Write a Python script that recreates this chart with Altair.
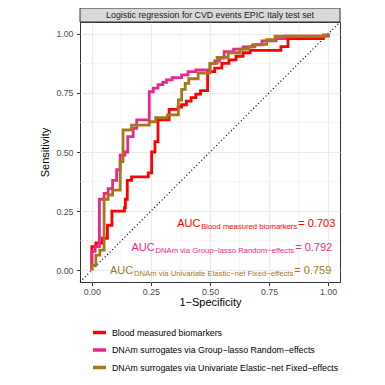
import altair as alt
import pandas as pd

TITLE = "Logistic regression for CVD events EPIC Italy test set"
METHODS = ["Blood measured biomarkers",
           "DNAm surrogates via Group\u2212lasso Random\u2212effects",
           "DNAm surrogates via Univariate Elastic\u2212net Fixed\u2212effects"]
COLORS = ["#FF0000", "#E7298A", "#A6761D"]

RED_FPR = [0, 0, 0.017, 0.045, 0.066, 0.085, 0.138, 0.142, 0.15, 0.168, 0.239, 0.253, 0.267, 0.28,
           0.327, 0.365, 0.38, 0.40, 0.42, 0.44, 0.46, 0.49, 0.52, 0.55, 0.58, 0.61, 0.64, 0.67,
           0.80, 0.83, 0.98, 1.0]
RED_TPR = [0, 0.10, 0.115, 0.135, 0.19, 0.25, 0.265, 0.30, 0.38, 0.395, 0.412, 0.50, 0.544, 0.636,
           0.68, 0.69, 0.70, 0.715, 0.73, 0.745, 0.76, 0.84, 0.855, 0.875, 0.89, 0.905, 0.92, 0.93,
           0.946, 0.98, 0.99, 1.0]

PINK_FPR = [0, 0, 0.014, 0.032, 0.052, 0.069, 0.088, 0.105, 0.12, 0.14, 0.152, 0.175, 0.19, 0.243,
            0.26, 0.28, 0.30, 0.316, 0.34, 0.38, 0.407, 0.44, 0.50, 0.52, 0.54, 0.56, 0.60, 0.64,
            0.68, 0.72, 0.78, 0.82, 0.98, 1.0]
PINK_TPR = [0, 0.08, 0.10, 0.30, 0.325, 0.345, 0.38, 0.425, 0.487, 0.50, 0.565, 0.60, 0.636, 0.755,
            0.77, 0.785, 0.795, 0.805, 0.815, 0.826, 0.84, 0.847, 0.875, 0.885, 0.897, 0.925, 0.935,
            0.945, 0.953, 0.97, 0.98, 0.99, 0.993, 1.0]

GOLD_FPR = [0, 0, 0.017, 0.034, 0.052, 0.069, 0.088, 0.12, 0.132, 0.168, 0.243, 0.27, 0.32, 0.366,
            0.38, 0.395, 0.41, 0.45, 0.50, 0.53, 0.577, 0.627, 0.663, 0.69, 0.74, 0.775, 0.98, 1.0]
GOLD_TPR = [0, 0.02, 0.064, 0.085, 0.30, 0.318, 0.339, 0.459, 0.593, 0.614, 0.628, 0.645, 0.657,
            0.72, 0.765, 0.79, 0.81, 0.834, 0.875, 0.90, 0.92, 0.935, 0.945, 0.955, 0.975, 0.99,
            0.995, 1.0]

AUC_VALUES = [0.703, 0.792, 0.759]
AUC_SUBS = ["Blood measured biomarkers",
            "DNAm via Group\u2212lasso Random\u2212effects",
            "DNAm via Univariate Elastic\u2212net Fixed\u2212effects"]
AUC_X = [1.03, 1.017, 1.013]
AUC_Y = [0.2, 0.1, 0.0]

TICKS = [0, 0.25, 0.5, 0.75, 1]
MINOR = [0.125, 0.375, 0.625, 0.875]
DIAG = [-0.05, 1.05]

FONT = "Liberation Sans"
MAIN_SIZE = 11
SUB_SIZE = 7.7
PLOT_W = 260
DOMAIN = [-0.05, 1.05]
PX_PER_UNIT = PLOT_W / (DOMAIN[1] - DOMAIN[0])

# Arial / Liberation Sans advance widths (per 1000 em)
W = {' ': 278, '-': 333, '\u2212': 584, '=': 584, '.': 278,
     'A': 667, 'B': 667, 'C': 722, 'D': 722, 'E': 667, 'F': 611, 'G': 778, 'I': 278,
     'N': 722, 'R': 722, 'U': 722,
     'a': 556, 'b': 556, 'c': 500, 'd': 556, 'e': 556, 'f': 278, 'g': 556, 'h': 556,
     'i': 222, 'k': 500, 'l': 222, 'm': 833, 'n': 556, 'o': 556, 'p': 556, 'r': 333,
     's': 500, 't': 278, 'u': 556, 'v': 500, 'x': 500, 'y': 500}
for d in "0123456789":
    W[d] = 556


def text_width(s, size):
    return sum(W.get(ch, 556) for ch in s) * size / 1000.0


rows = []
for name, fx, ty in zip(METHODS, [RED_FPR, PINK_FPR, GOLD_FPR], [RED_TPR, PINK_TPR, GOLD_TPR]):
    for i, (a, b) in enumerate(zip(fx, ty)):
        rows.append({"method": name, "fpr": a, "tpr": b, "ord": i})
roc = pd.DataFrame(rows)

VAL_GAP = 38
ann = pd.DataFrame({
    "sub": AUC_SUBS,
    "val": ["= %.3f" % v for v in AUC_VALUES],
    "auc": ["AUC"] * 3,
    "x": AUC_X,
    "x_sub": [x - VAL_GAP / PX_PER_UNIT for x in AUC_X],
    "x_auc": [x - (VAL_GAP + text_width(s, SUB_SIZE) + 0.5) / PX_PER_UNIT
              for x, s in zip(AUC_X, AUC_SUBS)],
    "y": AUC_Y,
    "col": COLORS,
})

minor_df = pd.DataFrame({"m": MINOR})
diag_df = pd.DataFrame({"d": DIAG})
strip_df = pd.DataFrame({"t": [TITLE]})

xscale = alt.Scale(domain=DOMAIN, nice=False, zero=False)
yscale = alt.Scale(domain=DOMAIN, nice=False, zero=False)
xaxis = alt.Axis(values=TICKS, format=".2f", title="1\u2212Specificity",
                 titleY=20, titleBaseline="middle", labelPadding=2)
yaxis = alt.Axis(values=TICKS, format=".2f", title="Sensitivity",
                 titleX=-35, titleY=130, titleBaseline="middle", labelPadding=3.5)

minor_x = alt.Chart(minor_df).mark_rule(color="#EBEBEB", strokeWidth=0.55).encode(
    x=alt.X("m:Q", scale=xscale, axis=xaxis))
minor_y = alt.Chart(minor_df).mark_rule(color="#EBEBEB", strokeWidth=0.55).encode(
    y=alt.Y("m:Q", scale=yscale, axis=yaxis))

diag = alt.Chart(diag_df).mark_line(color="black", strokeDash=[1.1, 2.4], strokeWidth=1.1).encode(
    x=alt.X("d:Q", scale=xscale, axis=xaxis),
    y=alt.Y("d:Q", scale=yscale, axis=yaxis))

lines = alt.Chart(roc).mark_line(interpolate="step-after", strokeWidth=2.8).encode(
    x=alt.X("fpr:Q", scale=xscale, axis=xaxis),
    y=alt.Y("tpr:Q", scale=yscale, axis=yaxis),
    color=alt.Color("method:N", scale=alt.Scale(domain=METHODS, range=COLORS),
                    sort=METHODS,
                    legend=alt.Legend(orient="none", legendX=11, legendY=302, title=None,
                                      symbolType="stroke", symbolStrokeWidth=3.5,
                                      symbolSize=170, labelFontSize=8.8, labelFont=FONT,
                                      labelColor="black", labelOffset=4, rowPadding=1.5,
                                      labelLimit=0, padding=0, direction="vertical")),
    order=alt.Order("ord:Q"))

strip_rect = alt.Chart(strip_df).mark_rect(fill="#D9D9D9", stroke="#333333", strokeWidth=1).encode(
    x=alt.value(0), x2=alt.value(PLOT_W), y=alt.value(-14), y2=alt.value(0))
strip_text = alt.Chart(strip_df).mark_text(font=FONT, fontSize=8.8, color="#1A1A1A",
                                           baseline="middle", align="center").encode(
    x=alt.value(PLOT_W / 2), y=alt.value(-7), text="t:N")

base_ann = alt.Chart(ann)
ann_val = base_ann.mark_text(font=FONT, fontSize=MAIN_SIZE, align="right", baseline="alphabetic",
                             dy=4).encode(
    x=alt.X("x:Q", scale=xscale, axis=xaxis), y=alt.Y("y:Q", scale=yscale, axis=yaxis),
    text="val:N", color=alt.Color("col:N", scale=None))
ann_sub = base_ann.mark_text(font=FONT, fontSize=SUB_SIZE, align="right", baseline="alphabetic",
                             dy=6).encode(
    x=alt.X("x_sub:Q", scale=xscale, axis=xaxis), y=alt.Y("y:Q", scale=yscale, axis=yaxis),
    text="sub:N", color=alt.Color("col:N", scale=None))
ann_auc = base_ann.mark_text(font=FONT, fontSize=MAIN_SIZE, align="right", baseline="alphabetic",
                             dy=4).encode(
    x=alt.X("x_auc:Q", scale=xscale, axis=xaxis), y=alt.Y("y:Q", scale=yscale, axis=yaxis),
    text="auc:N", color=alt.Color("col:N", scale=None))

chart = alt.layer(minor_x, minor_y, diag, lines, strip_rect, strip_text,
                  ann_val, ann_sub, ann_auc).properties(
    width=PLOT_W, height=260,
    autosize=alt.AutoSizeParams(type="none"),
    padding={"left": 72, "top": 14, "right": 37, "bottom": 95},
    background="white",
).configure_view(stroke="#333333", strokeWidth=1).configure_axis(
    grid=True, gridColor="#EBEBEB", gridWidth=1.1, domain=False,
    tickColor="#333333", tickSize=3.5, tickWidth=1,
    labelColor="#4D4D4D", labelFontSize=8.8, labelFont=FONT,
    titleFont=FONT, titleFontSize=11, titleFontWeight="normal", titleColor="black",
)

chart.save("out.html", embed_options={"renderer": "svg", "actions": False})
